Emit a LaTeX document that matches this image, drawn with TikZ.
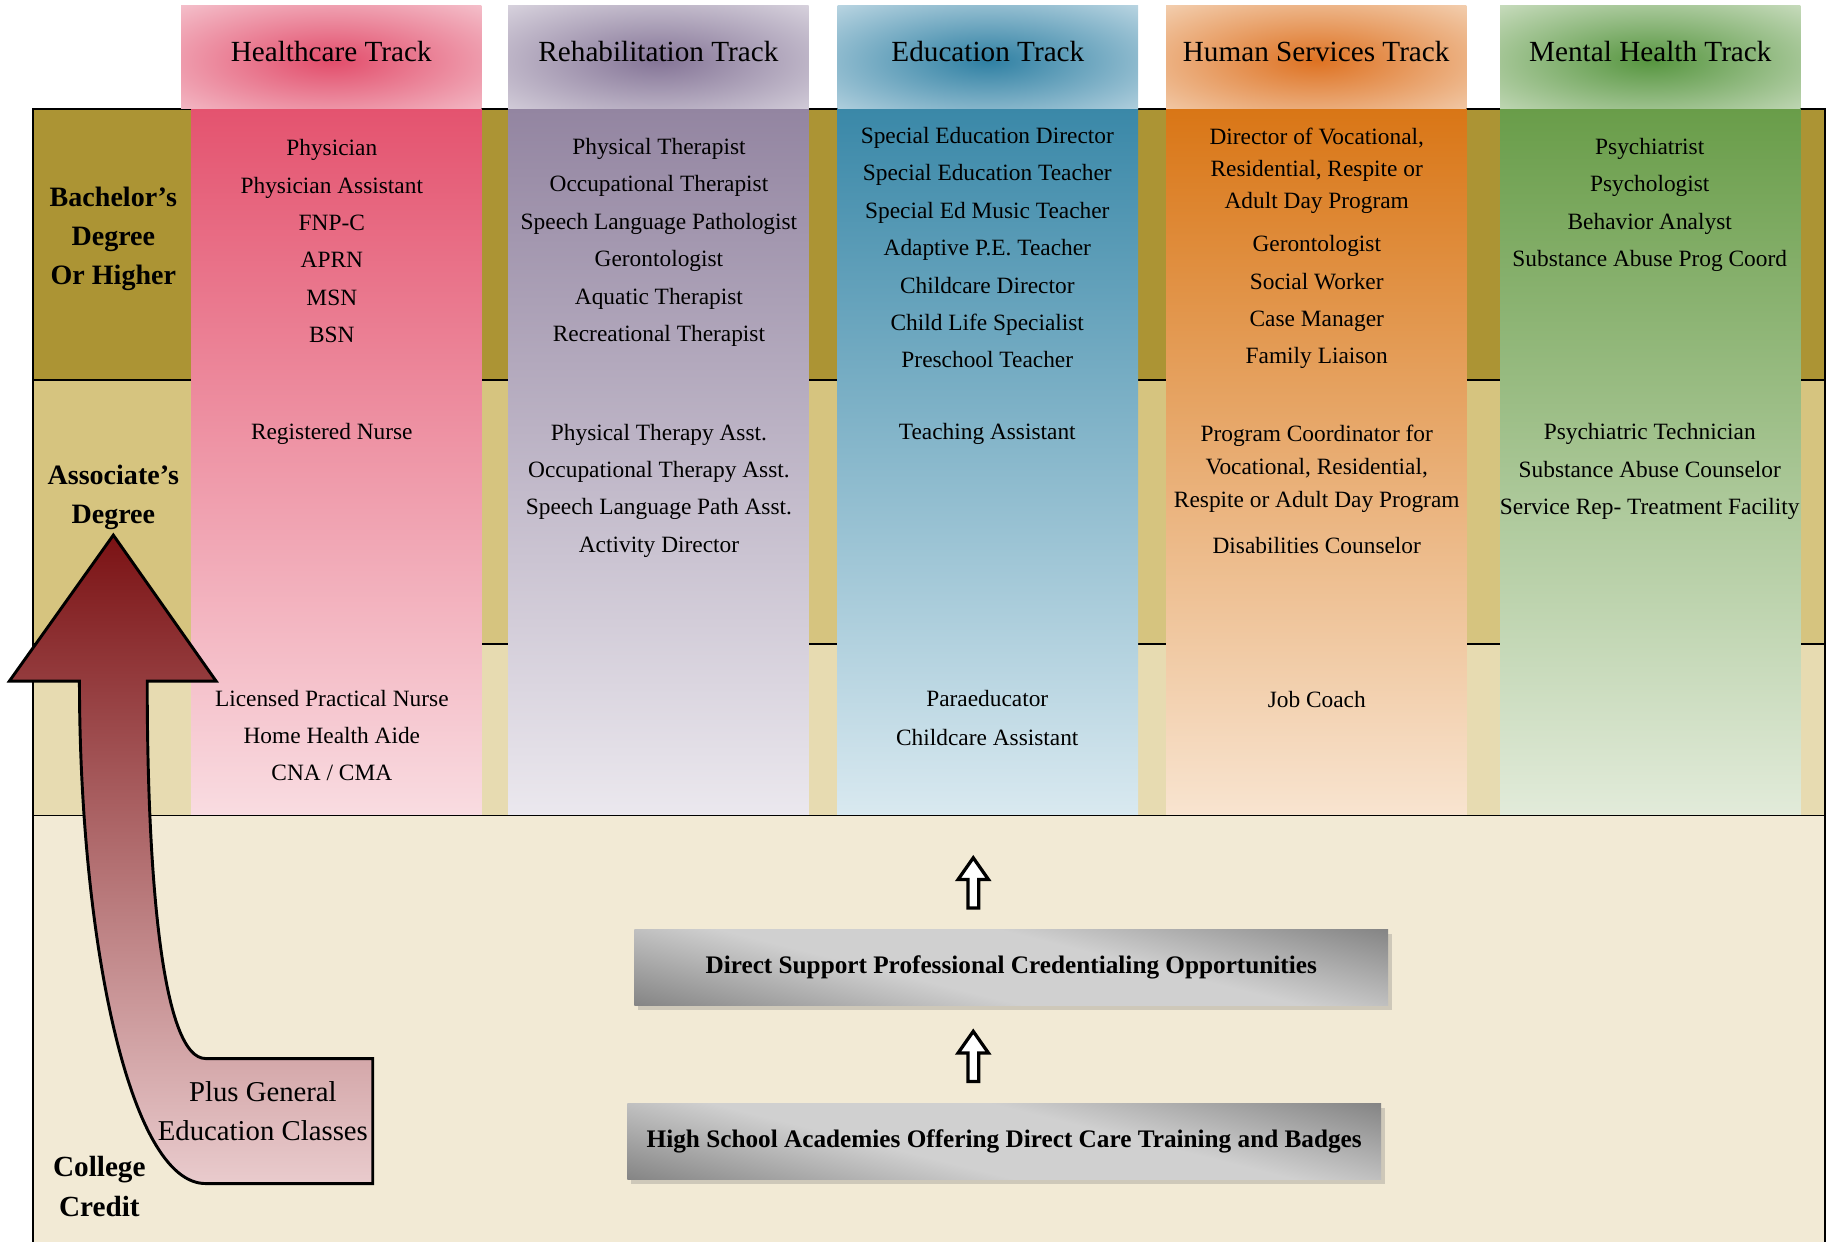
\documentclass[tikz,border=0pt]{standalone}
\usepackage{fontspec}
\setmainfont{Liberation Serif}
\usetikzlibrary{positioning,calc,shapes.arrows,shadows}

\definecolor{bachband}{HTML}{AC9434}
\definecolor{assocband}{HTML}{D6C47F}
\definecolor{certband}{HTML}{E7DBB1}
\definecolor{creditband}{HTML}{F2EAD5}
\definecolor{hctop}{HTML}{E4536F}\definecolor{hcmid}{HTML}{F1AAB6}\definecolor{hcbot}{HTML}{F9DCE1}
\definecolor{hchdr}{HTML}{F8D8DF}\definecolor{hcglow}{HTML}{E24D6B}
\definecolor{rhtop}{HTML}{9385A1}\definecolor{rhmid}{HTML}{C4BDCB}\definecolor{rhbot}{HTML}{EBE8EE}
\definecolor{rhhdr}{HTML}{E9E6EC}\definecolor{rhglow}{HTML}{857597}
\definecolor{edtop}{HTML}{3A88A8}\definecolor{edmid}{HTML}{93BACB}\definecolor{edbot}{HTML}{D9E9F0}
\definecolor{edhdr}{HTML}{D7E7EF}\definecolor{edglow}{HTML}{2F80A3}
\definecolor{hstop}{HTML}{D97616}\definecolor{hsmid}{HTML}{EDB48E}\definecolor{hsbot}{HTML}{F8E4D0}
\definecolor{hshdr}{HTML}{F7E2CD}\definecolor{hsglow}{HTML}{DE7222}
\definecolor{mhtop}{HTML}{699D49}\definecolor{mhmid}{HTML}{ABC89A}\definecolor{mhbot}{HTML}{E2EBDA}
\definecolor{mhhdr}{HTML}{DFEAD7}\definecolor{mhglow}{HTML}{579640}
\definecolor{steeldark}{HTML}{6B6B6B}
\definecolor{steellight}{HTML}{D0D0D0}
\definecolor{liftdark}{HTML}{7B1214}
\definecolor{liftmid}{HTML}{B58A8C}
\definecolor{liftlight}{HTML}{E9CBCD}

\pgfdeclarehorizontalshading{steel}{100bp}{color(0bp)=(steeldark); color(12bp)=(steeldark); color(42bp)=(steellight); color(58bp)=(steellight); color(88bp)=(steeldark); color(100bp)=(steeldark)}

\tikzset{
  job/.style={align=center, font=\fontsize{10}{16}\selectfont},
  trackhead/.style={font=\fontsize{12.5}{15}\selectfont},
  level/.style={align=center, font=\bfseries\fontsize{12}{16.75}\selectfont},
  credbox/.style={shade, shading=steel, shading angle=76, minimum width=322.5pt, minimum height=32.5pt, inner sep=0pt,
    font=\bfseries\fontsize{10.8}{12}\selectfont, drop shadow={shadow xshift=1.5pt, shadow yshift=-2pt, opacity=.25, fill=black!60}},
  hollowup/.style={single arrow, rotate=90, draw=black, line width=1.4pt, fill=white, minimum height=21.5pt,
    inner xsep=0pt, inner ysep=1.6pt, single arrow head extend=4.2pt, single arrow tip angle=70},
  rule/.style={line width=0.8pt}
}

\begin{document}
\begin{tikzpicture}[x=0.5pt, y=-0.5pt]
\useasboundingbox (0,0) rectangle (1568,1063);

\fill[bachband] (28,93) rectangle (1562,325);
\fill[assocband] (28,325) rectangle (1562,551);
\fill[certband] (28,551) rectangle (1562,698);
\fill[creditband] (28,698) rectangle (1562,1063);
\draw[rule] (28,1063) -- (28,93) -- (1562,93) -- (1562,1063);
\draw[rule] (28,325) -- (1562,325);
\draw[rule] (28,551) -- (1562,551);

\foreach \xa/\xb/\hx/\col/\title in {164/412/155/hc/Healthcare Track, 435/692/435/rh/Rehabilitation Track,
    717/974/717/ed/Education Track, 998/1255/998/hs/Human Services Track, 1284/1541/1284/mh/Mental Health Track}
{
  \shade[top color=\col top, middle color=\col mid, bottom color=\col bot] (\xa,93) rectangle (\xb,698);
  \begin{scope}
    \clip (\hx,5) rectangle (\xb,93);
    \fill[\col hdr] (\hx,5) rectangle (\xb,93);
    \shade[inner color=\col glow, outer color=\col hdr] ($(\hx,52)!.5!(\xb,52)$) ellipse (230 and 80);
  \end{scope}
  \node[trackhead] (\col-head) at ($(\hx,44)!.5!(\xb,44)$) {\title};
}
\draw[rule] (28,698) -- (1562,698);

\node[level] (bach) at (97,204.5) {Bachelor’s\\Degree\\Or Higher};
\node[level] (assoc) at (97,425.5) {Associate’s\\Degree};

\node[job] (hc-bach) at (284,206.5) {Physician\\Physician Assistant\\FNP-C\\APRN\\MSN\\BSN};
\node[job] (hc-assoc) at (284,371.5) {Registered Nurse};
\node[job] (hc-cert) at (284,629.5) {Licensed Practical Nurse\\Home Health Aide\\CNA / CMA};

\node[job] (rh-bach) at (564,207.5) {Physical Therapist\\Occupational Therapist\\Speech Language Pathologist\\Gerontologist\\Aquatic Therapist\\Recreational Therapist};
\node[job] (rh-assoc) at (564,420) {Physical Therapy Asst.\\Occupational Therapy Asst.\\Speech Language Path Asst.\\Activity Director};

\node[job] (ed-bach) at (845,212) {Special Education Director\\Special Education Teacher\\Special Ed Music Teacher\\Adaptive P.E. Teacher\\Childcare Director\\Child Life Specialist\\Preschool Teacher};
\node[job] (ed-assoc) at (845,371.5) {Teaching Assistant};
\node[job] (ed-cert) at (845,614.5) {Paraeducator\\[0.5pt]Childcare Assistant};

\node[job] (hs-bach) at (1127,212.5) {Director of Vocational,\\[-2.25pt]Residential, Respite or\\[-2.25pt]Adult Day Program\\[2.5pt]Gerontologist\\Social Worker\\Case Manager\\Family Liaison};
\node[job] (hs-assoc) at (1127,419) {Program Coordinator for\\[-2pt]Vocational, Residential,\\[-2pt]Respite or Adult Day Program\\[4pt]Disabilities Counselor};
\node[job] (hs-cert) at (1127,599) {Job Coach};

\node[job] (mh-bach) at (1412,175.5) {Psychiatrist\\Psychologist\\Behavior Analyst\\Substance Abuse Prog Coord};
\node[job] (mh-assoc) at (1412,403.5) {Psychiatric Technician\\Substance Abuse Counselor\\Service Rep- Treatment Facility};

\shade[top color=liftdark, middle color=liftmid, bottom color=liftlight, draw=black, line width=1.25pt]
  (176,906) -- (319,906) -- (319,1013) -- (176,1013) .. controls (110,1013) and (68,800) .. (68,583)
  -- (8,583) -- (97,458) -- (185,583) -- (126,583) .. controls (126,760) and (140,906) .. (176,906) -- cycle;
\node[align=center, font=\fontsize{12.3}{17}\selectfont] (gened) at (225,951) {Plus General\\Education Classes};
\node[level, font=\bfseries\fontsize{12.5}{17.5}\selectfont] (credit) at (85,1015.5) {College\\Credit};

\node[credbox] (dsp) at (865.5,828) {Direct Support Professional Credentialing Opportunities};
\node[credbox] (hs) at (859.5,977) {High School Academies Offering Direct Care Training and Badges};
\node[hollowup] (upper) at (833,759) {};
\node[hollowup] (lower) at (833,907.5) {};
\end{tikzpicture}
\end{document}
